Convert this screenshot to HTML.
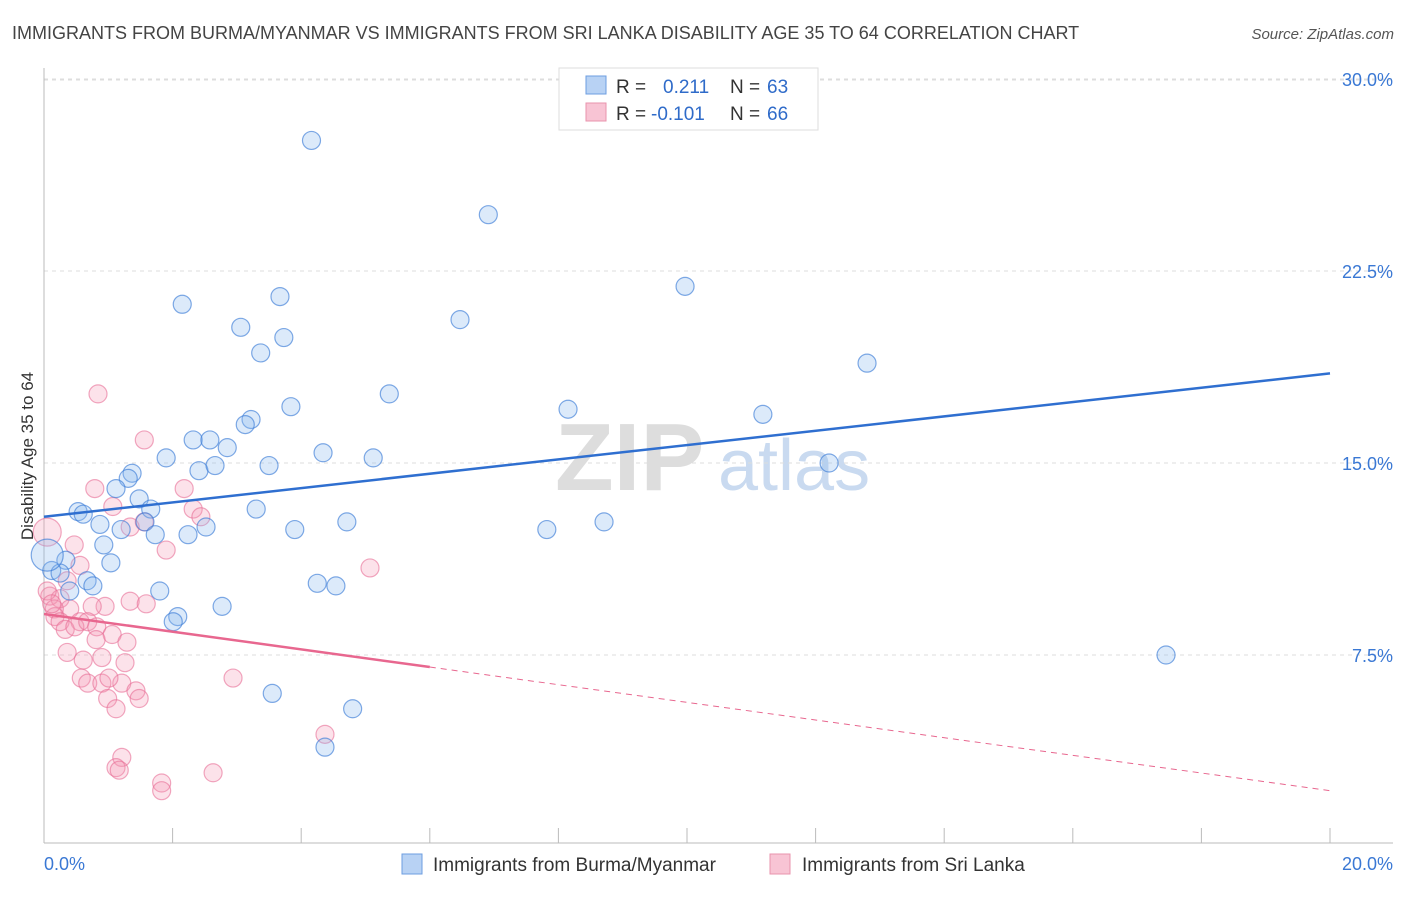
<!DOCTYPE html>
<html><head><meta charset="utf-8"><style>
body{margin:0;background:#fff;font-family:"Liberation Sans",sans-serif;}
svg text{font-family:"Liberation Sans",sans-serif;}
</style></head><body>
<svg id="chart" width="1406" height="892" viewBox="0 0 1406 892" xmlns="http://www.w3.org/2000/svg">
<text x="12" y="39" font-size="18" fill="#444">IMMIGRANTS FROM BURMA/MYANMAR VS IMMIGRANTS FROM SRI LANKA DISABILITY AGE 35 TO 64 CORRELATION CHART</text>
<text x="1394" y="39" font-size="15" fill="#555" text-anchor="end" font-style="italic">Source: ZipAtlas.com</text>
<g>
<text x="555" y="490" font-size="96" fill="#ddd" font-family="Liberation Serif" font-weight="bold">ZIP</text>
<text x="718" y="490" font-size="72" fill="#c9daf0">atlas</text>
</g>
<g id="grid"></g>
<g id="axes"></g>
<g id="pink"></g>
<g id="blue"></g>
<g id="trends"></g>
<text transform="translate(33,456) rotate(-90)" font-size="17" fill="#333" text-anchor="middle">Disability Age 35 to 64</text>
<g>
<rect x="559" y="68" width="259" height="62" fill="#fff" stroke="#ddd"/>
<rect x="586" y="76" width="20" height="18" fill="#b8d2f4" stroke="#6d9ee0"/>
<rect x="586" y="103" width="20" height="18" fill="#f8c4d4" stroke="#e993ad"/>
<text x="616" y="93" font-size="19" fill="#333">R =</text>
<text x="663" y="93" font-size="19" fill="#2f6bc9">0.211</text>
<text x="730" y="93" font-size="19" fill="#333">N =</text>
<text x="767" y="93" font-size="19" fill="#2f6bc9">63</text>
<text x="616" y="120" font-size="19" fill="#333">R =</text>
<text x="651" y="120" font-size="19" fill="#2f6bc9">-0.101</text>
<text x="730" y="120" font-size="19" fill="#333">N =</text>
<text x="767" y="120" font-size="19" fill="#2f6bc9">66</text>
</g>
<g>
<rect x="402" y="854" width="20" height="20" fill="#b8d2f4" stroke="#6d9ee0"/>
<text x="433" y="871" font-size="19" fill="#333">Immigrants from Burma/Myanmar</text>
<rect x="770" y="854" width="20" height="20" fill="#f8c4d4" stroke="#e993ad"/>
<text x="802" y="871" font-size="19" fill="#333">Immigrants from Sri Lanka</text>
</g>
</svg>
<script>
const xTicks=[0,2,4,6,8,10,12,14,16,18,20];
const yTicks=[7.5,15,22.5,30];
const yTickLabels=["7.5%","15.0%","22.5%","30.0%"];
const blueX=[4.16,6.91,9.97,2.15,3.67,6.47,3.06,3.73,3.37,12.80,5.37,3.84,8.15,11.18,3.22,3.13,2.32,2.58,2.85,1.90,4.34,5.12,3.50,2.41,2.66,1.37,1.31,1.12,1.48,12.21,3.30,1.66,0.53,0.61,0.87,1.57,4.71,8.71,1.20,7.82,3.90,2.52,2.24,1.73,0.93,0.34,1.04,0.12,0.25,0.67,0.76,4.25,4.54,0.40,1.80,2.08,2.01,2.77,17.45,3.55,4.80,4.37,0.05];
const blueY=[27.6,24.7,21.9,21.2,21.5,20.6,20.3,19.9,19.3,18.9,17.7,17.2,17.1,16.9,16.7,16.5,15.9,15.9,15.6,15.2,15.4,15.2,14.9,14.7,14.9,14.6,14.4,14.0,13.6,15.0,13.2,13.2,13.1,13.0,12.6,12.7,12.7,12.7,12.4,12.4,12.4,12.5,12.2,12.2,11.8,11.2,11.1,10.8,10.7,10.4,10.2,10.3,10.2,10.0,10.0,9.0,8.8,9.4,7.5,6.0,5.4,3.9,11.4];
const pinkX=[0.84,1.56,2.18,0.79,1.07,2.32,2.44,1.34,1.56,0.05,0.47,1.90,0.56,0.36,5.07,0.09,1.34,1.59,0.25,0.95,0.75,0.40,0.16,0.17,0.25,0.56,0.33,0.48,0.68,0.82,1.06,0.81,1.29,0.36,0.61,0.90,1.26,0.58,0.68,0.90,1.21,1.01,2.94,1.43,0.99,1.48,1.12,4.37,1.21,1.12,1.17,1.83,1.83,2.63,0.05,0.12];
const pinkY=[17.7,15.9,14.0,14.0,13.3,13.2,12.9,12.5,12.7,12.3,11.8,11.6,11.0,10.4,10.9,9.8,9.6,9.5,9.7,9.4,9.4,9.3,9.3,9.0,8.8,8.8,8.5,8.6,8.8,8.6,8.3,8.1,8.0,7.6,7.3,7.4,7.2,6.6,6.4,6.4,6.4,6.6,6.6,6.1,5.8,5.8,5.4,4.4,3.5,3.1,3.0,2.5,2.2,2.9,10.0,9.5];
const blueTrend=[12.9,18.5];
const pinkTrend=[9.1,2.2];
const NS="http://www.w3.org/2000/svg";
const X0=44,X1=1330,Y0=847;
function sx(v){return X0+(X1-X0)*v/20;}
function sy(v){return Y0-v*25.6;}
function mk(tag,attrs,parent){const e=document.createElementNS(NS,tag);for(const k in attrs)e.setAttribute(k,attrs[k]);parent.appendChild(e);return e;}
const grid=document.getElementById('grid'),axes=document.getElementById('axes');
yTicks.forEach((t,i)=>{
 const l=mk('line',{x1:44,x2:1393,y1:sy(t),y2:sy(t),stroke:'#ddd','stroke-dasharray':'4,4'},grid);
 
 
 const tx=mk('text',{x:1393,y:sy(t)+7,'font-size':18,fill:'#3a78d4','text-anchor':'end'},axes);
 tx.textContent=yTickLabels[i];
 
 
});
const g0=mk('line',{x1:44,x2:1393,y1:80,y2:80,stroke:'#ddd','stroke-dasharray':'4,4'},grid);
mk('line',{x1:44,x2:44,y1:68,y2:843,stroke:'#bbb'},axes);
mk('line',{x1:44,x2:1393,y1:843,y2:843,stroke:'#bbb'},axes);
xTicks.forEach(t=>{
 const l=mk('line',{x1:sx(t),x2:sx(t),y1:828,y2:843,stroke:'#bbb'},axes);
 
 
});
const xl=mk('text',{x:44,y:870,'font-size':18,fill:'#3a78d4'},axes);xl.textContent='0.0%';


const xr=mk('text',{x:1393,y:870,'font-size':18,fill:'#3a78d4','text-anchor':'end'},axes);xr.textContent='20.0%';


const pg=document.getElementById('pink'),bg=document.getElementById('blue');
pinkX.forEach((x,i)=>{
 const r=(i===9)?14:9;
 const c=mk('circle',{cx:sx(x),cy:sy(pinkY[i]),r:r,fill:'rgba(244,150,180,0.28)',stroke:'rgba(232,110,150,0.6)','stroke-width':1.2},pg);
 
 
});
blueX.forEach((x,i)=>{
 const r=(i===62)?16:9;
 const c=mk('circle',{cx:sx(x),cy:sy(blueY[i]),r:r,fill:'rgba(140,185,240,0.3)',stroke:'rgba(60,125,215,0.65)','stroke-width':1.2},bg);
 
 
});
const tg=document.getElementById('trends');
const bt=mk('line',{x1:sx(0),y1:sy(blueTrend[0]),x2:sx(20),y2:sy(blueTrend[1]),stroke:'#2f6fd0','stroke-width':2.5},tg);


const pAt=v=>pinkTrend[0]+(pinkTrend[1]-pinkTrend[0])*v/20;
const pt=mk('line',{x1:sx(0),y1:sy(pAt(0)),x2:sx(6),y2:sy(pAt(6)),stroke:'#e8678f','stroke-width':2.5},tg);


const pd=mk('line',{x1:sx(6),y1:sy(pAt(6)),x2:sx(20),y2:sy(pAt(20)),stroke:'#e8678f','stroke-width':1,'stroke-dasharray':'6,5'},tg);


</script>
</body></html>
